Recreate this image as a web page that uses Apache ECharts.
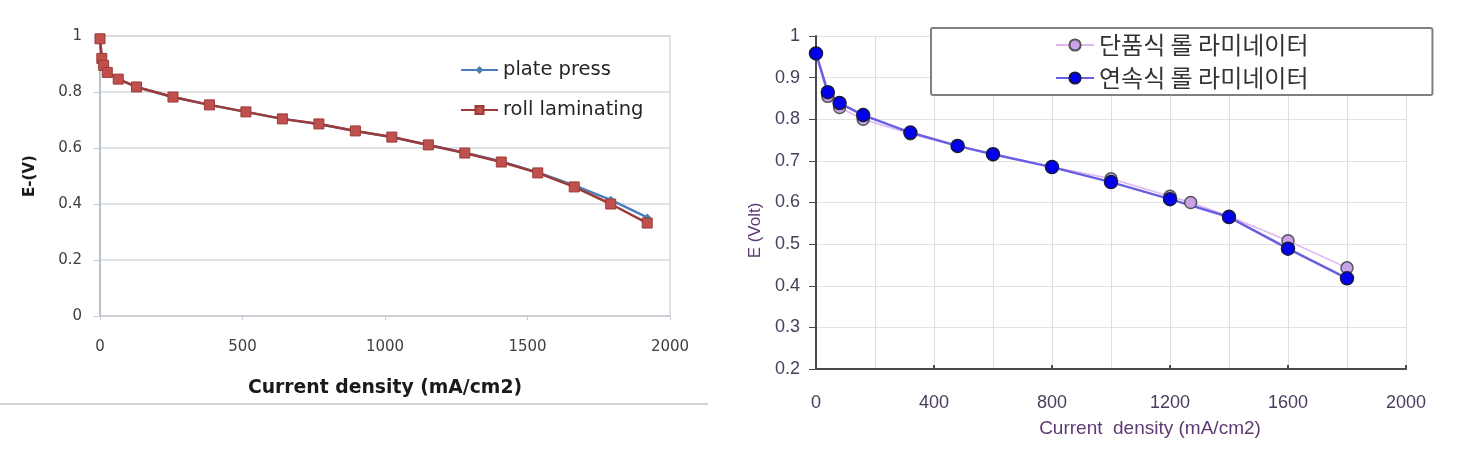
<!DOCTYPE html>
<html>
<head>
<meta charset="utf-8">
<script src="https://cdn.jsdelivr.net/npm/echarts@6/dist/echarts.min.js"></script>
<style>html,body{margin:0;padding:0;background:#fff}#c{width:1461px;height:451px}</style>
</head>
<body>
<div id="c"></div>
<script>
// Left chart data
const leftX = [0, 6.4, 12.8, 25.6, 64, 128, 256, 384, 512, 640, 768, 896, 1024, 1152, 1280, 1408, 1536, 1664, 1792, 1920];
const platePress = [0.99, 0.92, 0.895, 0.87, 0.846, 0.818, 0.782, 0.754, 0.729, 0.704, 0.686, 0.661, 0.639, 0.611, 0.583, 0.552, 0.513, 0.466, 0.415, 0.352];
const rollLaminating = [0.99, 0.92, 0.895, 0.87, 0.846, 0.818, 0.782, 0.754, 0.729, 0.704, 0.686, 0.661, 0.639, 0.611, 0.582, 0.55, 0.511, 0.461, 0.40, 0.332];
const leftNames = ['plate press', 'roll laminating'];

// Right chart data
const rightX1 = [0, 40, 80, 160, 320, 480, 600, 800, 1000, 1200, 1270, 1400, 1600, 1800];
const danpum = [0.958, 0.855, 0.828, 0.80, 0.765, 0.735, 0.715, 0.686, 0.657, 0.615, 0.60, 0.567, 0.508, 0.443];
const rightX2 = [0, 40, 80, 160, 320, 480, 600, 800, 1000, 1200, 1400, 1600, 1800];
const yeonsok = [0.958, 0.865, 0.839, 0.81, 0.768, 0.736, 0.716, 0.685, 0.649, 0.608, 0.565, 0.489, 0.418];
const rightNames = ['단품식 롤 라미네이터', '연속식 롤 라미네이터'];

const pairs = (xs, ys) => xs.map((x, i) => [x, ys[i]]);
const plain = v => String(+(+v).toFixed(2));

const chart = echarts.init(document.getElementById('c'), null, {renderer: 'canvas'});
const leftFont = '"DejaVu Sans", sans-serif';
const rightFont = '"Liberation Sans", Arial, sans-serif';

chart.setOption({
  animation: false,
  backgroundColor: '#ffffff',
  grid: [
    {left: 100, right: 791, top: 36, bottom: 135, show: true, borderColor: '#bcc6d2', borderWidth: 1, backgroundColor: 'transparent'},
    {left: 816, right: 55, top: 36, bottom: 82}
  ],
  legend: [
    {
      data: leftNames, orient: 'vertical', left: 460, top: 58,
      itemWidth: 37, itemHeight: 10, padding: 0, itemGap: 16,
      textStyle: {fontFamily: leftFont, fontSize: 19.5, color: '#262626', lineHeight: 24}
    },
    {
      data: rightNames, orient: 'vertical', left: 931, top: 28, itemGap: 7,
      itemWidth: 38, itemHeight: 14,
      padding: [4, 124, 4, 124],
      borderColor: '#808080', borderWidth: 2, borderRadius: 2,
      backgroundColor: '#ffffff',
      textStyle: {fontFamily: '"Noto Sans CJK KR", sans-serif', fontSize: 24, color: '#333333', lineHeight: 26}
    }
  ],
  xAxis: [
    {
      gridIndex: 0, type: 'value', min: 0, max: 2000, interval: 500,
      name: 'Current density (mA/cm2)', nameLocation: 'middle', nameGap: 63,
      nameTextStyle: {fontFamily: leftFont, fontSize: 18.8, fontWeight: 'bold', color: '#1a1a1a'},
      axisLine: {show: true, lineStyle: {color: '#c8ccd2', width: 1.5}},
      axisTick: {show: true, length: 4, lineStyle: {color: '#c8ccd2'}},
      axisLabel: {margin: 24, fontFamily: leftFont, fontSize: 15, color: '#404040', formatter: plain},
      splitLine: {show: false}
    },
    {
      gridIndex: 1, type: 'value', min: 0, max: 2000, interval: 400,
      name: 'Current  density (mA/cm2)', nameLocation: 'middle', nameGap: 50,
      nameTextStyle: {fontFamily: rightFont, fontSize: 19, color: '#5e3a72', padding: [0, 0, 0, 78]},
      axisLine: {show: true, onZero: false, lineStyle: {color: '#4a4a4a', width: 2}},
      axisTick: {show: true, inside: true, length: 4, lineStyle: {color: '#4a4a4a', width: 2}},
      minorTick: {show: false, splitNumber: 2},
      axisLabel: {margin: 25, fontFamily: rightFont, fontSize: 18, color: '#4a3d5c', formatter: plain},
      splitLine: {show: true, lineStyle: {color: '#dedede', width: 1}},
      minorSplitLine: {show: true, lineStyle: {color: '#dedede', width: 1}}
    }
  ],
  yAxis: [
    {
      gridIndex: 0, type: 'value', min: 0, max: 1, interval: 0.2,
      name: 'E-(V)', nameLocation: 'middle', nameGap: 62, nameRotate: 90,
      nameTextStyle: {fontFamily: leftFont, fontSize: 15, fontWeight: 'bold', color: '#1a1a1a'},
      axisLine: {show: true, lineStyle: {color: '#aab6c6', width: 1.5}},
      axisTick: {show: true, length: 6, lineStyle: {color: '#c8ccd2'}},
      axisLabel: {margin: 18, fontFamily: leftFont, fontSize: 15, color: '#404040', formatter: plain},
      splitLine: {show: true, lineStyle: {color: '#d4d8dc', width: 1.5}}
    },
    {
      gridIndex: 1, type: 'value', min: 0.2, max: 1, interval: 0.1,
      name: 'E (Volt)', nameLocation: 'middle', nameGap: 52, nameRotate: 90,
      nameTextStyle: {fontFamily: rightFont, fontSize: 17, color: '#5e3a72', padding: [0, 56, 0, 0]},
      axisLine: {show: true, onZero: false, lineStyle: {color: '#4a4a4a', width: 2}},
      axisTick: {show: true, length: 7, lineStyle: {color: '#4a4a4a', width: 1}},
      axisLabel: {margin: 16, fontFamily: rightFont, fontSize: 18, color: '#4a3d5c', formatter: plain},
      splitLine: {show: true, lineStyle: {color: '#e2e2e2', width: 1}}
    }
  ],
  series: [
    {
      name: leftNames[0], type: 'line', xAxisIndex: 0, yAxisIndex: 0,
      data: pairs(leftX, platePress),
      symbol: 'diamond', symbolSize: 8,
      itemStyle: {color: '#4a7ebb'},
      lineStyle: {color: '#4a7ebb', width: 2.5}
    },
    {
      name: leftNames[1], type: 'line', xAxisIndex: 0, yAxisIndex: 0,
      data: pairs(leftX, rollLaminating),
      symbol: 'rect', symbolSize: 10,
      itemStyle: {color: '#c0504d', borderColor: '#9b3a37', borderWidth: 1},
      lineStyle: {color: '#9e3b38', width: 2.5}
    },
    {
      name: rightNames[0], type: 'line', xAxisIndex: 1, yAxisIndex: 1,
      data: pairs(rightX1, danpum),
      symbol: 'circle', symbolSize: 12,
      itemStyle: {color: '#c9a2e8', borderColor: '#555555', borderWidth: 1.5},
      lineStyle: {color: '#e0b6f2', width: 1.5}
    },
    {
      name: rightNames[1], type: 'line', xAxisIndex: 1, yAxisIndex: 1,
      data: pairs(rightX2, yeonsok),
      symbol: 'circle', symbolSize: 13,
      itemStyle: {color: '#0000ee', borderColor: '#1a1a40', borderWidth: 1.5},
      lineStyle: {color: '#6a5fe0', width: 2.5}
    }
  ],
  graphic: [
    {type: 'line', shape: {x1: 0, y1: 404, x2: 708, y2: 404}, style: {stroke: '#d4d4d4', lineWidth: 2}}
  ]
});
</script>
</body>
</html>
